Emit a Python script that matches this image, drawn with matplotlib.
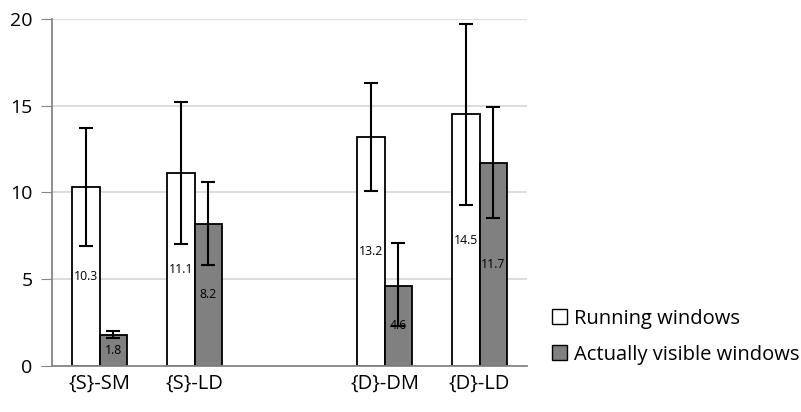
import numpy as np
import matplotlib.pyplot as plt
from matplotlib.patches import Patch

plt.rcParams['font.family'] = ['Open Sans', 'DejaVu Sans']

categories = ['{S}-SM', '{S}-LD', '', '{D}-DM', '{D}-LD']
running = [10.3, 11.1, np.nan, 13.2, 14.5]
running_lo = [3.4, 4.1, 0, 3.1, 5.2]
running_hi = [3.4, 4.1, 0, 3.1, 5.2]
visible = [1.8, 8.2, np.nan, 4.6, 11.7]
visible_lo = [0.2, 2.4, 0, 2.3, 3.2]
visible_hi = [0.2, 2.4, 0, 2.5, 3.2]

fig = plt.figure(figsize=(8.01, 4.12), dpi=100)
ax = fig.add_axes([0.065, 0.112, 0.593, 0.842])

x = np.arange(len(categories))
w = 0.29

ax.bar(x - w / 2, running, w, color='white', edgecolor='black', linewidth=1.3, zorder=2)
ax.bar(x + w / 2, visible, w, color='#808080', edgecolor='black', linewidth=1.3, zorder=2)
ax.errorbar(x - w / 2, running, yerr=[running_lo, running_hi], fmt='none',
            ecolor='black', elinewidth=1.5, capsize=5, capthick=1.5, zorder=3)
ax.errorbar(x + w / 2, visible, yerr=[visible_lo, visible_hi], fmt='none',
            ecolor='black', elinewidth=1.5, capsize=5, capthick=1.5, zorder=3)

# value labels in the middle of each bar
for xs, vals in [(x - w / 2, running), (x + w / 2, visible)]:
    for xi, v in zip(xs, vals):
        if np.isnan(v):
            continue
        ax.text(xi, v / 2, f'{v}', ha='center', va='center', fontsize=8.8, zorder=4)

ax.set_xlim(-0.5, len(categories) - 0.5)
ax.set_ylim(0, 20)
ax.set_yticks([0, 5, 10, 15, 20])
ax.set_xticks(x)
ax.set_xticklabels(categories, fontsize=14.5)
ax.tick_params(axis='x', length=0, pad=6)
ax.tick_params(axis='y', labelsize=14, length=8, color='#868686', pad=6)
ax.yaxis.grid(True, color='#d9d9d9', linewidth=1.3, zorder=0)
ax.set_axisbelow(True)
for s in ['top', 'right']:
    ax.spines[s].set_visible(False)
for s in ['left', 'bottom']:
    ax.spines[s].set_color('#868686')
    ax.spines[s].set_linewidth(1.3)

handles = [Patch(facecolor='white', edgecolor='black', label='Running windows'),
           Patch(facecolor='#808080', edgecolor='black', label='Actually visible windows')]
fig.legend(handles=handles, loc='center left', bbox_to_anchor=(0.666, 0.183),
           frameon=False, fontsize=14.5, handlelength=0.75, handleheight=0.75,
           handletextpad=0.35, labelspacing=0.8)

fig.savefig('out.png', dpi=100)
